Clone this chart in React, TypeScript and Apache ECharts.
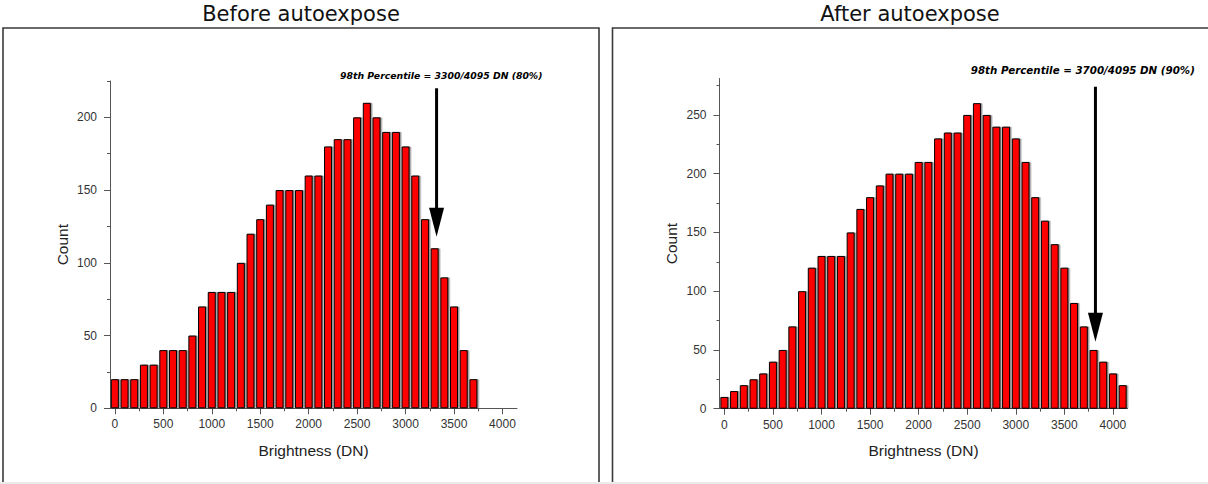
import React, { useEffect, useRef } from "react";
import * as echarts from "echarts";

// ---- data ----
const titles = ["Before autoexpose", "After autoexpose"];
const notes = [
  "98th Percentile = 3300/4095 DN (80%)",
  "98th Percentile = 3700/4095 DN (90%)",
];

const leftBins = [
  0, 100, 200, 300, 400, 500, 600, 700, 800, 900, 1000, 1100, 1200, 1300, 1400, 1500, 1600, 1700, 1800,
  1900, 2000, 2100, 2200, 2300, 2400, 2500, 2600, 2700, 2800, 2900, 3000, 3100, 3200, 3300, 3400, 3500,
  3600, 3700,
];
const leftCounts = [
  20, 20, 20, 30, 30, 40, 40, 40, 50, 70, 80, 80, 80, 100, 120, 130, 140, 150, 150, 150, 160, 160, 180,
  185, 185, 200, 210, 200, 190, 190, 180, 160, 130, 110, 90, 70, 40, 20,
];

const rightBins = [
  0, 100, 200, 300, 400, 500, 600, 700, 800, 900, 1000, 1100, 1200, 1300, 1400, 1500, 1600, 1700, 1800,
  1900, 2000, 2100, 2200, 2300, 2400, 2500, 2600, 2700, 2800, 2900, 3000, 3100, 3200, 3300, 3400, 3500,
  3600, 3700, 3800, 3900, 4000, 4100,
];
const rightCounts = [
  10, 15, 20, 25, 30, 40, 50, 70, 100, 120, 130, 130, 130, 150, 170, 180, 190, 200, 200, 200, 210, 210,
  230, 235, 235, 250, 260, 250, 240, 240, 230, 210, 180, 160, 140, 120, 90, 70, 50, 40, 30, 20,
];

const xMajorTicks = [0, 500, 1000, 1500, 2000, 2500, 3000, 3500, 4000];
const xMinorTicks = [250, 750, 1250, 1750, 2250, 2750, 3250, 3750];
const leftYMajor = [0, 50, 100, 150, 200];
const leftYMinor = [25, 75, 125, 175, 225];
const rightYMajor = [0, 50, 100, 150, 200, 250];
const rightYMinor = [25, 75, 125, 175, 225, 275];

// annotation anchors in data units
const arrowX = [3320, 3820];
const arrowTopY = [220, 274];
const arrowTipY = [118, 57];
const noteX = [3368, 3690];
const noteY = [229, 288];

const FONT = "'Liberation Sans', Arial, sans-serif";
const AXIS_COLOR = "#555";
const plain = (v: number) => String(v);

function xAxisPair(gridIndex: number) {
  return [
    {
      type: "value",
      gridIndex,
      position: "bottom",
      min: -50,
      max: 4150,
      axisLine: { show: true, onZero: false, lineStyle: { color: AXIS_COLOR, width: 1 } },
      axisTick: { show: true, length: 6, customValues: xMajorTicks, lineStyle: { color: AXIS_COLOR } },
      axisLabel: {
        customValues: xMajorTicks,
        formatter: plain,
        fontSize: 12,
        color: "#333",
        margin: 10,
        fontFamily: FONT,
      },
      splitLine: { show: false },
      name: "Brightness (DN)",
      nameLocation: "middle",
      nameGap: 34,
      nameTextStyle: { fontSize: 15.5, color: "#222", fontFamily: FONT },
    },
    {
      type: "value",
      gridIndex,
      position: "bottom",
      offset: 0,
      min: -50,
      max: 4150,
      axisLine: { show: false, onZero: false },
      axisTick: { show: true, length: 3, customValues: xMinorTicks, lineStyle: { color: AXIS_COLOR } },
      axisLabel: { show: false },
      splitLine: { show: false },
    },
  ];
}

function yAxisPair(gridIndex: number, max: number, major: number[], minor: number[]) {
  return [
    {
      type: "value",
      gridIndex,
      position: "left",
      min: 0,
      max,
      axisLine: { show: true, onZero: false, lineStyle: { color: AXIS_COLOR, width: 1 } },
      axisTick: { show: true, length: 6, customValues: major, lineStyle: { color: AXIS_COLOR } },
      axisLabel: {
        customValues: major,
        formatter: plain,
        fontSize: 12,
        color: "#333",
        margin: 13,
        fontFamily: FONT,
      },
      splitLine: { show: false },
      name: "Count",
      nameLocation: "middle",
      nameGap: 40,
      nameTextStyle: { fontSize: 15.5, color: "#222", fontFamily: FONT },
    },
    {
      type: "value",
      gridIndex,
      position: "left",
      offset: 0,
      min: 0,
      max,
      axisLine: { show: false, onZero: false },
      axisTick: { show: true, length: 3, customValues: minor, lineStyle: { color: AXIS_COLOR } },
      axisLabel: { show: false },
      splitLine: { show: false },
    },
  ];
}

function barSeries(axisIndex: number, bins: number[], counts: number[]) {
  return {
    type: "bar",
    xAxisIndex: axisIndex,
    yAxisIndex: axisIndex,
    data: bins.map((b, i) => [b, counts[i]]),
    barWidth: 8,
    itemStyle: {
      color: "#ff0000",
      borderColor: "#000",
      borderWidth: 1,
      shadowColor: "rgba(0,0,0,0.4)",
      shadowOffsetX: 1.5,
      shadowOffsetY: 0,
      shadowBlur: 0,
    },
  };
}

export default function App() {
  const ref = useRef<HTMLDivElement>(null);

  useEffect(() => {
    if (!ref.current) return;
    const chart = echarts.init(ref.current, null, { renderer: "svg", width: 1208, height: 484 });
    chart.setOption({
      animation: false,
      backgroundColor: "#ffffff",
      grid: [
        { left: 110, top: 81, width: 407, height: 327.3, containLabel: false },
        { left: 719.5, top: 78.5, width: 408, height: 330.2, containLabel: false },
      ],
      xAxis: [...xAxisPair(0), ...xAxisPair(1)],
      yAxis: [...yAxisPair(0, 225, leftYMajor, leftYMinor), ...yAxisPair(1, 281, rightYMajor, rightYMinor)],
      series: [barSeries(0, leftBins, leftCounts), barSeries(2, rightBins, rightCounts)],
    });

    const graphics: any[] = [
      {
        type: "rect",
        shape: { x: 3, y: 28, width: 596, height: 480 },
        style: { fill: "none", stroke: "#3a3a3a", lineWidth: 1.6 },
        silent: true,
      },
      {
        type: "rect",
        shape: { x: 612.5, y: 28, width: 620, height: 480 },
        style: { fill: "none", stroke: "#3a3a3a", lineWidth: 1.6 },
        silent: true,
      },
      {
        type: "rect",
        shape: { x: 0, y: 482, width: 1208, height: 2 },
        style: { fill: "#ececec" },
        silent: true,
      },
      {
        type: "text",
        x: 301,
        y: 14,
        style: { text: titles[0], fontSize: 21, fontFamily: "'DejaVu Sans'", fill: "#111", align: "center", verticalAlign: "middle" },
      },
      {
        type: "text",
        x: 910,
        y: 14,
        style: { text: titles[1], fontSize: 21, fontFamily: "'DejaVu Sans'", fill: "#111", align: "center", verticalAlign: "middle" },
      },
    ];

    const noteSizes = [9.3, 10.3];
    [0, 1].forEach((k) => {
      const finder = { xAxisIndex: k * 2, yAxisIndex: k * 2 };
      const top = chart.convertToPixel(finder, [arrowX[k], arrowTopY[k]]) as number[];
      const tip = chart.convertToPixel(finder, [arrowX[k], arrowTipY[k]]) as number[];
      const note = chart.convertToPixel(finder, [noteX[k], noteY[k]]) as number[];
      const headH = 29;
      const headW = 15;
      graphics.push({
        type: "line",
        shape: { x1: top[0], y1: top[1], x2: tip[0], y2: tip[1] - headH + 2 },
        style: { stroke: "#000", lineWidth: 3 },
        silent: true,
      });
      graphics.push({
        type: "polygon",
        shape: {
          points: [
            [tip[0] - headW / 2, tip[1] - headH],
            [tip[0] + headW / 2, tip[1] - headH],
            [tip[0], tip[1]],
          ],
        },
        style: { fill: "#000" },
        silent: true,
      });
      graphics.push({
        type: "text",
        x: note[0],
        y: note[1],
        style: {
          text: notes[k],
          fontSize: noteSizes[k],
          fontWeight: "bold",
          fontStyle: "italic",
          fontFamily: "'DejaVu Sans', sans-serif",
          fill: "#000",
          align: "center",
          verticalAlign: "middle",
        },
      });
    });

    chart.setOption({ graphic: graphics });

    return () => {
      chart.dispose();
    };
  }, []);

  return (
    <div
      ref={ref}
      style={{ position: "absolute", left: 0, top: 0, width: 1208, height: 484, background: "#fff" }}
    />
  );
}
